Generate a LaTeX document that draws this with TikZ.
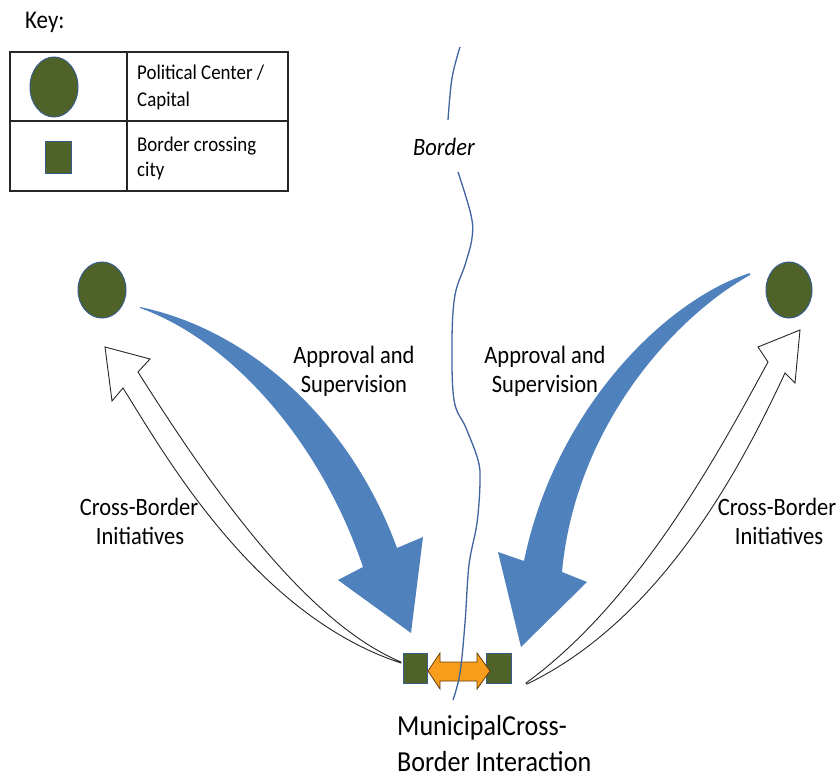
\documentclass[tikz,border=0pt]{standalone}
\usepackage{fontspec}
\setmainfont{Carlito}
\usetikzlibrary{shapes.geometric}
\definecolor{oliveG}{HTML}{4F6228}
\definecolor{cityedge}{HTML}{385D8A}
\definecolor{arrblue}{HTML}{4F81BD}
\definecolor{orng}{HTML}{F99D1C}
\definecolor{bordercol}{HTML}{3F64A0}
\newcommand\hsq[1]{\scalebox{0.9}[1]{#1}}
\tikzset{
  capital/.style={ellipse, fill=oliveG, draw=cityedge, line width=1pt, inner sep=0},
  city/.style={rectangle, fill=oliveG, draw=cityedge, line width=0.8pt, inner sep=0},
  hollow/.style={fill=white, draw=black!85, line width=0.9pt, line join=miter},
  keyline/.style={draw=black!85, line width=1.5pt},
  lbl/.style={inner sep=0, anchor=base, font=\fontsize{25}{30}\selectfont},
  keytxt/.style={inner sep=0, anchor=base west, font=\fontsize{21}{25}\selectfont},
}
\begin{document}
\begin{tikzpicture}[x=1pt,y=-1pt]
\useasboundingbox (0,0) rectangle (838,778);
\fill[white] (0,0) rectangle (838,778);

% key
\node[inner sep=0, anchor=base west, font=\fontsize{25.5}{30}\selectfont] (key) at (25,29) {\hsq{Key:}};
\draw[keyline] (10,52) rectangle (288,191);
\draw[keyline] (127,52) -- (127,191);
\draw[keyline] (10,121) -- (288,121);
\node[capital, minimum width=48, minimum height=60] (keycap) at (54,87) {};
\node[city, minimum width=26, minimum height=32] (keycity) at (58,157) {};
\node[keytxt] (k1) at (137,80) {\hsq{Political Center /}};
\node[keytxt] (k2) at (137,107) {\hsq{Capital}};
\node[keytxt] (k3) at (137,152) {\hsq{Border crossing}};
\node[keytxt] (k4) at (137,177) {\hsq{city}};

% blue arrows
\fill[arrblue] (140,307) .. controls (250,330) and (350,420) .. (397,548)
  -- (423,537) -- (411,633) -- (338,580) -- (363,567)
  .. controls (320,440) and (230,340) .. (140,308) -- cycle;
\fill[arrblue] (750,273) .. controls (665,300) and (555,410) .. (524,561)
  -- (498,552) -- (521,647) -- (587,582) -- (562,572)
  .. controls (575,430) and (670,320) .. (750,275) -- cycle;

% hollow arrows
\draw[hollow] (401,662) .. controls (300,620) and (200,470) .. (138,372)
  -- (150,359) -- (105,347) -- (112,401) -- (123,388)
  .. controls (165,455) and (255,615) .. (401,663) -- cycle;
\draw[hollow] (526,683) .. controls (640,600) and (720,450) .. (768,362)
  -- (758,347) -- (800,330) -- (795,383) -- (785,373)
  .. controls (740,470) and (660,620) .. (527,684) -- cycle;

% capitals and cities
\node[capital, minimum width=48, minimum height=56] (capL) at (102,290) {};
\node[capital, minimum width=46, minimum height=56] (capR) at (789,290) {};
\node[city, minimum width=24, minimum height=30] (cityL) at (415,668) {};
\node[city, minimum width=25, minimum height=30] (cityR) at (499,668) {};

% orange double arrow
\draw[fill=orng, draw=black!60!orng, line width=0.8pt, line join=miter]
  (428,671) -- (440,653) -- (440,662) -- (477,662) -- (477,653) -- (490,671)
  -- (477,689) -- (477,681) -- (440,681) -- (440,689) -- cycle;

% border line
\draw[bordercol, line width=1.3pt] plot[smooth, tension=0.6] coordinates {(460,47) (452,78) (448,120)};
\draw[bordercol, line width=1.3pt] plot[smooth, tension=0.6] coordinates {(458,172) (471,215) (472,238) (465,265) (455,295) (452,340) (454,400) (466,428) (478,460) (480,482) (477,523) (469,565) (465,623) (460,673) (453,700)};
\node[inner sep=0, anchor=base west, font=\fontsize{25}{30}\selectfont\itshape] (bd) at (413,156) {\hsq{Border}};

% labels
\node[lbl] (apL1) at (354,363) {\hsq{Approval and}};
\node[lbl] (apL2) at (354,392) {\hsq{Supervision}};
\node[lbl] (apR1) at (545,363) {\hsq{Approval and}};
\node[lbl] (apR2) at (545,392) {\hsq{Supervision}};
\node[lbl] (cbL1) at (139,515) {\hsq{Cross-Border}};
\node[lbl] (cbL2) at (140,544) {\hsq{Initiatives}};
\node[lbl] (cbR1) at (777,515) {\hsq{Cross-Border}};
\node[lbl] (cbR2) at (779,544) {\hsq{Initiatives}};
\node[inner sep=0, anchor=base west, font=\fontsize{29}{36}\selectfont] (mu1) at (397,735) {\hsq{MunicipalCross-}};
\node[inner sep=0, anchor=base west, font=\fontsize{29}{36}\selectfont] (mu2) at (397,771) {\hsq{Border Interaction}};
\end{tikzpicture}
\end{document}
